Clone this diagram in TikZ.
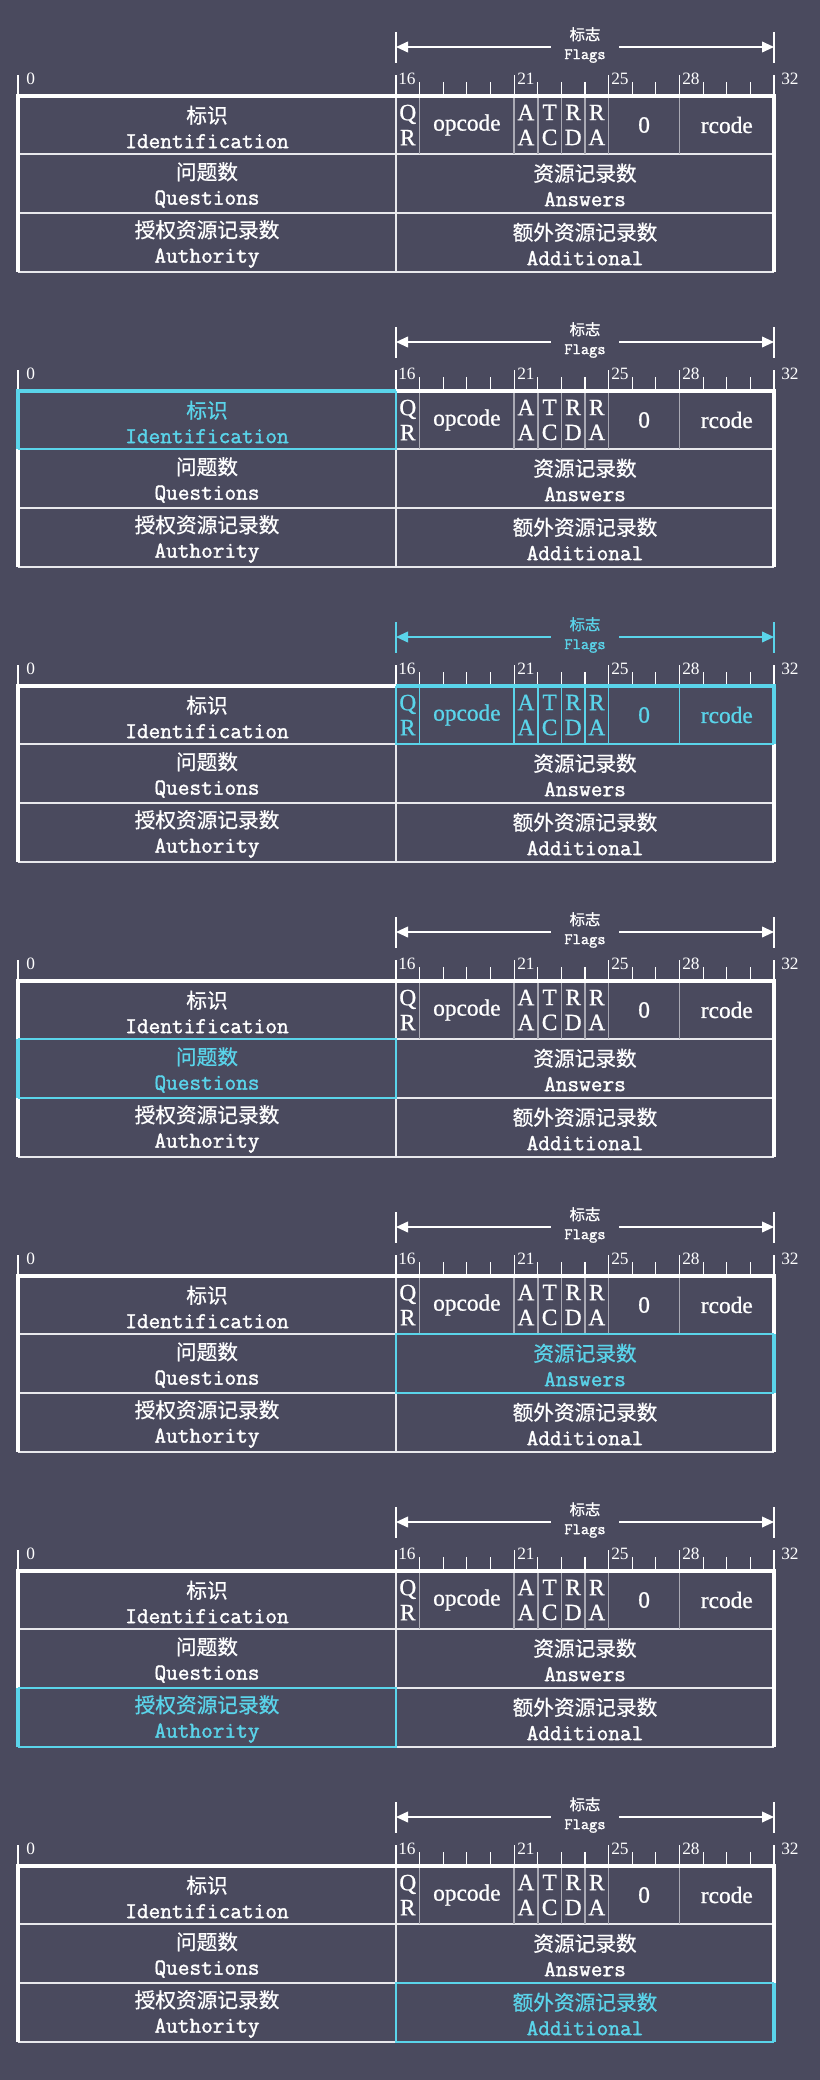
\documentclass[tikz,border=0pt]{standalone}
\usepackage{fontspec}
\setmainfont{Liberation Serif}[FakeBold=0.9]
\newfontfamily\numser{Liberation Serif}
\newfontfamily\cjk{Noto Sans CJK SC}[FakeBold=0.8]
\newfontfamily\lmono{Latin Modern Mono}[FakeBold=1.6]
\usetikzlibrary{arrows.meta}
\definecolor{bg}{RGB}{74,74,94}
\definecolor{hl}{RGB}{90,212,234}
\definecolor{gridc}{RGB}{232,232,236}
\definecolor{divg}{RGB}{170,170,180}
\newcommand\cellfont{\fontsize{15.5}{18.75}\selectfont}
\newcommand\lat[1]{{\lmono\fontsize{17}{18.75}\selectfont #1}}
\newcommand\serfont{\fontsize{17.5}{18.75}\selectfont}
\newcommand\numfont{\numser\fontsize{13}{14}\selectfont}
\newcommand\flagfont{\fontsize{11.5}{14.25}\selectfont}
\begin{document}
\begin{tikzpicture}[x=0.75pt,y=-0.75pt,
  thinl/.style={line width=1.1pt, draw=gridc},
  divl/.style={line width=1.2pt},
  thickl/.style={line width=3pt, line join=miter},
  tickl/.style={line width=0.9pt, draw=white},
  barl/.style={line width=1pt},
  arr/.style={line width=1.3pt, -{Triangle[length=9pt,width=8pt]}},
  cell/.style={align=center, inner sep=0pt, font=\cellfont},
  fcell/.style={align=center, inner sep=0pt, font=\serfont},
  num/.style={anchor=west, inner sep=0pt, font=\numfont, text=white},
  flab/.style={align=center, inner xsep=10pt, inner ysep=0pt, font=\flagfont}]
\useasboundingbox (0,0) rectangle (820,2080);
\fill[bg] (0,0) rectangle (820,2080);
\foreach \p in {0,...,6}{
  \def\cI{white}\def\cF{white}\def\cQ{white}\def\cA{white}\def\cU{white}\def\cD{white}\def\cFd{divg}
  \ifcase\p \or\def\cI{hl}\or\def\cF{hl}\def\cFd{hl}\or\def\cQ{hl}\or\def\cA{hl}\or\def\cU{hl}\or\def\cD{hl}\fi
  \begin{scope}[shift={(0,295*\p)}]
    % flags dimension arrow
    \coordinate (fa-\p) at (396,47);
    \coordinate (fb-\p) at (774,47);
    \node[flab, text=\cF] (fl-\p) at (585,45) {{\cjk 标志}\\{\lmono\fontsize{12}{14.25}\selectfont Flags}};
    \draw[barl, draw=\cF] (396,32) -- (396,63);
    \draw[barl, draw=\cF] (774,32) -- (774,63);
    \draw[arr, draw=\cF, fill=\cF] (fl-\p.west |- fa-\p) -- (fa-\p);
    \draw[arr, draw=\cF, fill=\cF] (fl-\p.east |- fb-\p) -- (fb-\p);
    % bit ruler
    \foreach \b in {17,...,20,22,23,24,26,27,29,30,31}{\draw[tickl] ({18+23.625*\b},82) -- ({18+23.625*\b},94);}
    \foreach \b in {0,16,21,25,28,32}{\draw[tickl] ({18+23.625*\b},75) -- ({18+23.625*\b},94);}
    \node[num] (n0-\p) at (26,79) {0};
    \node[num] (n16-\p) at (398,79) {16};
    \node[num] (n21-\p) at (517,79) {21};
    \node[num] (n25-\p) at (611,79) {25};
    \node[num] (n28-\p) at (682,79) {28};
    \node[num] (n32-\p) at (781,79) {32};
    % grid
    \draw[thinl] (18,154) -- (774,154);
    \draw[thinl] (18,213) -- (774,213);
    \draw[thinl] (18,272) -- (774,272);
    \draw[thinl] (396,96) -- (396,272);
    \foreach \b in {17,21,22,23,24,25,28}{\draw[divl, draw=\cFd] ({18+23.625*\b},96) -- ({18+23.625*\b},154);}
    \draw[thickl, draw=white] (18,272) -- (18,96) -- (774,96) -- (774,272);
    % highlight
    \ifcase\p
    \or
      \draw[thinl, draw=hl] (396,96) -- (396,154) -- (18,154);
      \draw[thickl, draw=hl] (18,154) -- (18,96) -- (396,96);
    \or
      \draw[thinl, draw=hl] (396,96) -- (396,154) -- (774,154);
      \draw[thickl, draw=hl] (396,96) -- (774,96) -- (774,154);
    \or
      \draw[thinl, draw=hl] (18,154) -- (396,154) -- (396,213) -- (18,213);
      \draw[thickl, draw=hl] (18,154) -- (18,213);
    \or
      \draw[thinl, draw=hl] (774,154) -- (396,154) -- (396,213) -- (774,213);
      \draw[thickl, draw=hl] (774,154) -- (774,213);
    \or
      \draw[thinl, draw=hl] (18,213) -- (396,213) -- (396,272) -- (18,272);
      \draw[thickl, draw=hl] (18,213) -- (18,272);
    \or
      \draw[thinl, draw=hl] (774,213) -- (396,213) -- (396,272) -- (774,272);
      \draw[thickl, draw=hl] (774,213) -- (774,272);
    \fi
    % cell texts
    \node[cell, text=\cI] (id-\p) at (207,127) {{\cjk 标识}\\\lat{Identification}};
    \node[cell, text=\cQ] (qu-\p) at (207,185) {{\cjk 问题数}\\\lat{Questions}};
    \node[cell, text=\cU] (au-\p) at (207,244) {{\cjk 授权资源记录数}\\\lat{Authority}};
    \node[cell, text=\cA] (an-\p) at (585,185) {{\cjk 资源记录数}\\\lat{Answers}};
    \node[cell, text=\cD] (ad-\p) at (585,244) {{\cjk 额外资源记录数}\\\lat{Additional}};
    \node[fcell, text=\cF] (qr-\p) at (407.8,125) {Q\\R};
    \node[fcell, text=\cF] (op-\p) at (466.9,125) {opcode};
    \node[fcell, text=\cF] (aa-\p) at (525.9,125) {A\\A};
    \node[fcell, text=\cF] (tc-\p) at (549.6,125) {T\\C};
    \node[fcell, text=\cF] (rd-\p) at (573.2,125) {R\\D};
    \node[fcell, text=\cF] (ra-\p) at (596.8,125) {R\\A};
    \node[fcell, text=\cF] (z-\p) at (644.1,125) {0};
    \node[fcell, text=\cF] (rc-\p) at (726.8,125) {rcode};
  \end{scope}
}
\end{tikzpicture}
\end{document}
